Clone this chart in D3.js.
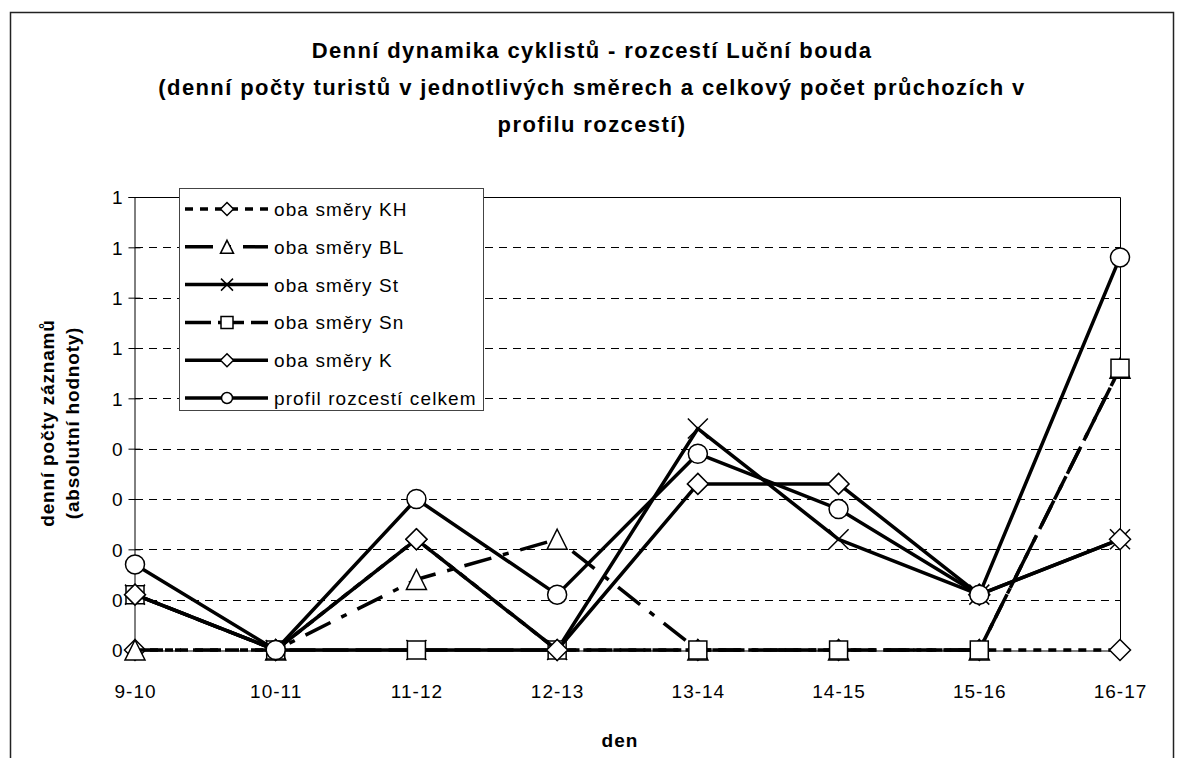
<!DOCTYPE html>
<html><head><meta charset="utf-8">
<script src="https://cdn.jsdelivr.net/npm/d3@7"></script>
<style>
body{margin:0;background:#fff}
svg{display:block}
text{font-family:"Liberation Sans",Arial,sans-serif;fill:#000}
</style>
</head><body>
<svg id="c" width="1184" height="758"></svg>
<script>
// ---- data ----
const categories = ["9-10","10-11","11-12","12-13","13-14","14-15","15-16","16-17"];
const seriesNames = ["oba směry KH","oba směry BL","oba směry St","oba směry Sn","oba směry K","profil rozcestí celkem"];
const valuesKH = [0, 0, 0.22, 0, 0, 0, 0, 0];
const valuesBL = [0, 0, 0.14, 0.22, 0, 0, 0, 0.56];
const valuesSt = [0.11, 0, 0, 0, 0.44, 0.22, 0.11, 0.22];
const valuesSn = [0.11, 0, 0, 0, 0, 0, 0, 0.56];
const valuesK = [0.11, 0, 0.22, 0, 0.33, 0.33, 0.11, 0.22];
const valuesTotal = [0.17, 0, 0.30, 0.11, 0.39, 0.28, 0.11, 0.78];
const yTickValues = [0, 0.1, 0.2, 0.3, 0.4, 0.5, 0.6, 0.7, 0.8, 0.9];
const yTickLabels = ["0","0","0","0","0","1","1","1","1","1"];
const titleLines = ["Denní dynamika cyklistů - rozcestí Luční bouda",
  "(denní počty turistů v jednotlivých směrech a celkový počet průchozích v",
  "profilu rozcestí)"];
const yTitleLines = ["denní počty záznamů", "(absolutní hodnoty)"];
const xTitle = "den";

// ---- styles ----
const seriesValues = [valuesKH, valuesBL, valuesSt, valuesSn, valuesK, valuesTotal];
const seriesStyle = [
  {dash: "8,7", marker: "diamond"},
  {dash: "28,12,6,12", marker: "triangle"},
  {dash: null, marker: "x"},
  {dash: "26,7", marker: "square"},
  {dash: null, marker: "diamond"},
  {dash: null, marker: "circle"}
];
const plotSize = {diamond: 10.5, triangle: 10, x: 10, square: 9, circle: 9.5};
const legendSize = {diamond: 6.5, triangle: 6.5, x: 6, square: 6, circle: 5.5};
const FONT = '"Liberation Sans",Arial,sans-serif';
const LW = 3.5;

function markerPath(type, s) {
  switch (type) {
    case "diamond": return `M0,${-s}L${s},0L0,${s}L${-s},0Z`;
    case "square": return `M${-s},${-s}H${s}V${s}H${-s}Z`;
    case "triangle": return `M0,${-s}L${s},${s}H${-s}Z`;
    case "x": return `M${-s},${-s}L${s},${s}M${-s},${s}L${s},${-s}`;
    default: return `M${s},0A${s},${s} 0 1,1 ${-s},0A${s},${s} 0 1,1 ${s},0Z`;
  }
}

const svg = d3.select("#c");
const L = 135, R = 1120, T = 197, B = 650;

svg.append("rect").attr("x", 10.5).attr("y", 12.5).attr("width", 1163).attr("height", 800)
  .attr("fill", "#fff").attr("stroke", "#222").attr("stroke-width", 1.5);

const x = d3.scalePoint().domain(categories).range([L, R]).padding(0);
const y = d3.scaleLinear().domain([0, 0.9]).range([B, T]);

// gridlines
svg.append("g").selectAll("line").data(yTickValues.filter(v => v > 0 && v < 0.9)).join("line")
  .attr("x1", L).attr("x2", R).attr("y1", d => Math.round(y(d)) + 0.5).attr("y2", d => Math.round(y(d)) + 0.5)
  .attr("stroke", "#000").attr("stroke-width", 1).attr("stroke-dasharray", "8,6");

// plot border top/right
svg.append("path").attr("d", `M${L},${T + 0.5}H${R + 0.5}V${B}`).attr("fill", "none")
  .attr("stroke", "#000").attr("stroke-width", 1);

// y axis
const yAxis = d3.axisLeft(y).tickValues(yTickValues).tickSize(6)
  .tickFormat((d, i) => yTickLabels[i]);
const gy = svg.append("g").attr("transform", `translate(${L - 0.5},0)`).call(yAxis);
gy.select(".domain").attr("stroke", "#000");
gy.selectAll(".tick line").attr("x2", -6).attr("x1", 6).attr("stroke", "#000");
gy.selectAll(".tick text").attr("x", -12).attr("dy", "0.36em")
  .style("font-size", "19px").style("font-family", FONT);

// x axis
const xAxis = d3.axisBottom(x).tickSize(0).tickPadding(0);
const gx = svg.append("g").attr("transform", `translate(0,${B + 0.5})`).call(xAxis);
gx.select(".domain").attr("stroke", "#000");
gx.selectAll(".tick text").attr("y", 47).attr("dy", 0)
  .style("font-size", "19px").style("letter-spacing", "1px").style("font-family", FONT);

// series
const lineGen = d3.line().x((d, i) => x(categories[i])).y(d => y(d));
seriesValues.forEach((vals, si) => {
  const st = seriesStyle[si];
  const g = svg.append("g");
  g.append("path").attr("d", lineGen(vals)).attr("fill", "none").attr("stroke", "#000")
    .attr("stroke-width", LW).attr("stroke-dasharray", st.dash).attr("stroke-linejoin", "round");
  g.selectAll("path.m").data(vals).join("path").attr("class", "m")
    .attr("transform", (d, i) => `translate(${x(categories[i])},${y(d)})`)
    .attr("d", markerPath(st.marker, plotSize[st.marker]))
    .attr("fill", st.marker === "x" ? "none" : "#fff").attr("stroke", "#000").attr("stroke-width", 1.5);
});

// legend
const lg = svg.append("g");
lg.append("rect").attr("x", 179.5).attr("y", 188.5).attr("width", 304).attr("height", 222)
  .attr("fill", "#fff").attr("stroke", "#444").attr("stroke-width", 1);
seriesNames.forEach((name, si) => {
  const st = seriesStyle[si];
  const ry = 209 + si * 37.8;
  lg.append("line").attr("x1", 185).attr("x2", 268).attr("y1", ry).attr("y2", ry)
    .attr("stroke", "#000").attr("stroke-width", LW).attr("stroke-dasharray", st.dash);
  lg.append("path").attr("transform", `translate(227,${ry})`)
    .attr("d", markerPath(st.marker, legendSize[st.marker]))
    .attr("fill", st.marker === "x" ? "none" : "#fff").attr("stroke", "#000").attr("stroke-width", 1.5);
  lg.append("text").attr("x", 274).attr("y", ry + 7).text(name)
    .style("font-size", "19px").style("letter-spacing", "1.1px");
});

// titles
titleLines.forEach((t, i) => {
  svg.append("text").attr("x", 592).attr("y", 58 + i * 37).attr("text-anchor", "middle").text(t)
    .style("font-size", "22px").style("font-weight", "bold").style("letter-spacing", "1.4px");
});
yTitleLines.forEach((t, i) => {
  svg.append("text").attr("transform", `translate(${47 + i * 25},${423}) rotate(-90)`)
    .attr("text-anchor", "middle").attr("dy", "0.36em").text(t)
    .style("font-size", "19px").style("font-weight", "bold").style("letter-spacing", "0.8px");
});
svg.append("text").attr("x", 620).attr("y", 747).attr("text-anchor", "middle").text(xTitle)
  .style("font-size", "19px").style("font-weight", "bold").style("letter-spacing", "1px");
</script>
</body></html>
